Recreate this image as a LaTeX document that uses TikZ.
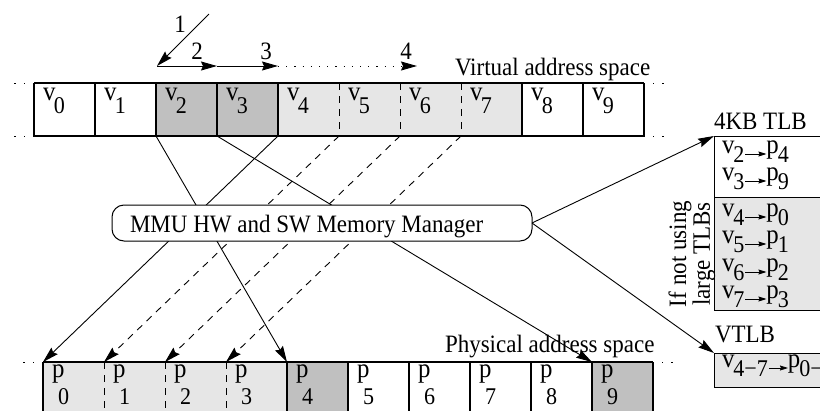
\documentclass[tikz,border=0pt]{standalone}
\usepackage{fontspec}
\setmainfont[FakeStretch=0.92]{Liberation Serif}
\usetikzlibrary{arrows.meta,calc}
\definecolor{darkcell}{HTML}{C0C0C0}
\definecolor{lightcell}{HTML}{E6E6E6}
\newcommand\bigtxt{\fontsize{25}{28}\selectfont}
\newcommand\celltxt{\fontsize{27}{28}\selectfont}
\newcommand\subtxt{\fontsize{24}{24}\selectfont}
\newcommand\cellsub[1]{\kern-1.5pt\raisebox{-13pt}{\subtxt #1}}
\newcommand\entsub[1]{\kern-1pt\raisebox{-9pt}{\subtxt #1}}

\begin{document}
\begin{tikzpicture}[x=1pt,y=-1pt,
  every node/.style={font=\bigtxt, inner sep=0pt, outer sep=0pt},
  cell/.style={minimum width=61pt, minimum height=53pt, anchor=north west, draw=none},
  pcell/.style={minimum width=61pt, minimum height=60pt, anchor=north west, draw=none},
  edge/.style={line width=1.1pt},
  arr/.style={line width=0.9pt, -{Stealth[length=16pt,width=9pt,inset=2pt]}},
  smallarr/.style={line width=0.8pt, -{Stealth[length=8pt,width=5pt,inset=1pt]}},
  dotline/.style={line width=1pt, dash pattern=on 1.2pt off 8pt},
  dashline/.style={dash pattern=on 7pt off 6pt},
  boxnode/.style={draw, line width=1pt, anchor=north west, minimum width=140pt}
]
\path[use as bounding box, clip] (0,0) rectangle (820,410);

% virtual pages
\foreach \i/\f in {0/white,1/white,2/darkcell,3/darkcell,4/lightcell,5/lightcell,6/lightcell,7/lightcell,8/white,9/white}
  \node[cell, fill=\f] (v\i) at ({34+61*\i},83) {};
% physical pages
\foreach \i/\f in {0/lightcell,1/lightcell,2/lightcell,3/lightcell,4/darkcell,5/white,6/white,7/white,8/white,9/darkcell}
  \node[pcell, fill=\f] (p\i) at ({43+61*\i},362) {};

% outlines of the virtual row
\draw[edge] (v0.north west) -- (v9.north east);
\draw[edge] (v0.south west) -- (v9.south east);
\foreach \i in {0,1,2,3,4,8,9}
  \draw[edge] (v\i.north west) -- (v\i.south west);
\draw[edge] (v9.north east) -- (v9.south east);
\foreach \i in {5,6,7}
  \draw[line width=1pt, dashline] (v\i.north west) -- (v\i.south west);
\draw[dotline] (v0.north west) -- ++(-26,0);
\draw[dotline] (v0.south west) -- ++(-26,0);
\draw[dotline] (v9.north east) -- ++(27,0);
\draw[dotline] (v9.south east) -- ++(27,0);

% outlines of the physical row
\draw[edge] (p0.north west) -- (p9.north east);
\foreach \i in {0,4,5,6,7,8,9}
  \draw[edge] (p\i.north west) -- (p\i.south west);
\draw[edge] (p9.north east) -- (p9.south east);
\foreach \i in {1,2,3}
  \draw[line width=1pt, dashline] (p\i.north west) -- (p\i.south west);
\draw[dotline] (p0.north west) -- ++(-26,0);
\draw[dotline] (p9.north east) -- ++(27,0);

% page labels
\foreach \i in {0,...,9}{
  \node[anchor=base west, font=\celltxt] at ($(v\i.north west)+(9,17)$) {v\cellsub{\i}};
  \node[anchor=base west, font=\celltxt] at ($(p\i.north west)+(9,15)$) {p};
  \node[anchor=base west, font=\subtxt] at ($(p\i.north west)+(15,42)$) {\i};
}
\node[anchor=base west] (vas) at (455,75) {Virtual address space};
\node[anchor=base west] (pas) at (445,352) {Physical address space};

% access sequence
\coordinate (s0) at (209,14);
\coordinate (s1) at (157,66);
\coordinate (s2) at (217,66);
\coordinate (s3) at (278,66);
\coordinate (s4) at (417,66);
\draw[arr] (s0) -- (s1);
\draw[arr] (s1) -- (s2);
\draw[arr] (s2) -- (s3);
\draw[arr, dash pattern=on 1.2pt off 7pt] (s3) -- (s4);
\node (n1) at (180,24) {1};
\node (n2) at (197,51) {2};
\node (n3) at (266,51) {3};
\node (n4) at (406,51) {4};

% page mappings
\draw[arr] (v2.south west) -- (p4.north west);
\draw[arr] (v3.south west) -- (p9.north west);
\draw[arr] (v4.south west) -- (p0.north west);
\draw[arr, dashline] (v5.south west) -- (p1.north west);
\draw[arr, dashline] (v6.south west) -- (p2.north west);
\draw[arr, dashline] (v7.south west) -- (p3.north west);

% memory manager
\node[draw, line width=1pt, fill=white, rounded corners=12pt,
      minimum width=420pt, minimum height=36pt] (mmu) at (322,223) {};
\node[anchor=base west] (mmutext) at (130,232) {MMU HW and SW Memory Manager};

% TLBs
\node[boxnode, fill=white, minimum height=61pt] (tlb) at (714,136) {};
\node[boxnode, fill=lightcell, minimum height=113pt] (tlbx) at (714,197) {};
\node[boxnode, fill=lightcell, minimum height=34pt] (vtlb) at (714,353) {};
\node[anchor=base west] (tlbname) at (714,129) {4KB TLB};
\node[anchor=base west] (vtlbname) at (715,342) {VTLB};
\node[rotate=90, align=center, font=\fontsize{25}{15}\selectfont] (note) at (692,254)
  {If not using\\large TLBs};

\draw[arr] (mmu.east) -- (tlb.north west);
\draw[arr] (mmu.east) -- (vtlb.north west);

% TLB entries
\foreach \a/\b/\y in {2/4/153,3/9/180,4/0/216,5/1/243,6/2/271,7/3/298}{
  \node[anchor=base west, font=\celltxt] (ev\a) at (722,\y) {v\entsub{\a}};
  \node[anchor=base west, font=\celltxt] (ep\a) at ($(ev\a.base east)+(22,0)$) {p\entsub{\b}};
  \draw[smallarr] ($(ev\a.base east)+(1,1)$) -- ($(ep\a.base west)+(0,1)$);
}
\node[anchor=base west, font=\celltxt] (evr) at (722,367) {v\entsub{4\char"2212 7}};
\node[anchor=base west, font=\celltxt] (epr) at ($(evr.base east)+(20,0)$) {p\entsub{0\char"2212 3}};
\draw[smallarr] ($(evr.base east)+(1,1)$) -- ($(epr.base west)+(0,1)$);
\end{tikzpicture}
\end{document}
